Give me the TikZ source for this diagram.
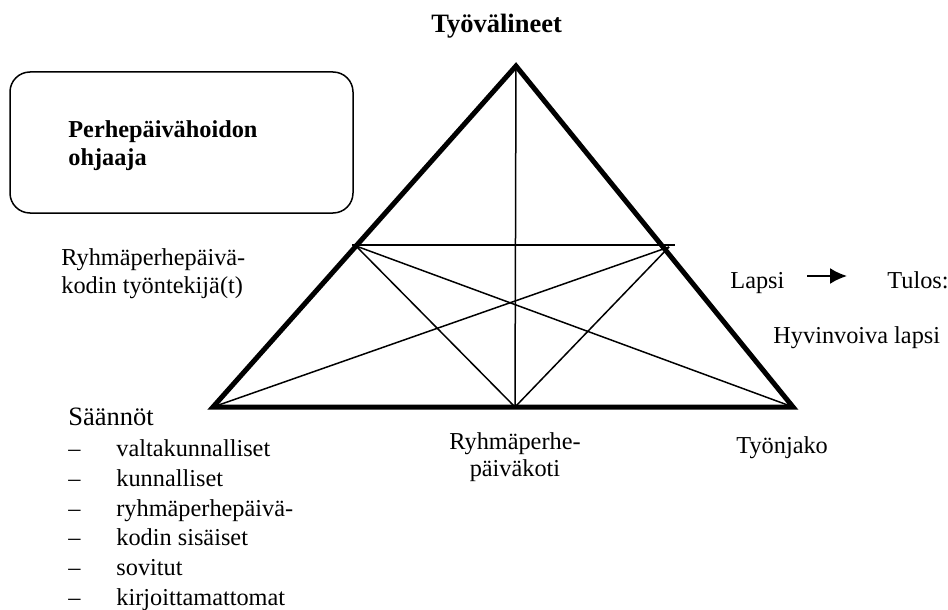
\documentclass[tikz,border=0pt]{standalone}
\usepackage{fontspec}
\setmainfont{Liberation Serif}
\usetikzlibrary{arrows.meta}
\tikzset{>={Latex[length=8.5pt,width=8pt]}}
\tikzset{
  txt/.style={inner sep=0pt, font=\fontsize{12.15}{14}\selectfont},
  bigtxt/.style={inner sep=0pt, font=\fontsize{13.25}{15}\selectfont},
  fineline/.style={line width=0.75pt},
  frame/.style={line width=2.5pt}
}

\begin{document}
\begin{tikzpicture}[x=0.5pt,y=-0.5pt]
            \useasboundingbox (0,0) rectangle (948,610);
            \coordinate (top) at (516,66);
            \coordinate (lb) at (213,407);
            \coordinate (rb) at (793,407);
            \coordinate (bm) at (515,407);
            \coordinate (ul) at (356,246);
            \coordinate (ur) at (669,247);
            \coordinate (hl) at (352,245);
            \coordinate (hr) at (675,245);
            \draw[fineline] (top) -- (bm);
            \draw[fineline] (hl) -- (hr);
            \draw[fineline] (ul) -- (bm);
            \draw[fineline] (ur) -- (bm);
            \draw[fineline] (ul) -- (rb);
            \draw[fineline] (ur) -- (lb);
            \draw[frame] (top) -- (lb) -- (rb) -- cycle;
            \node[draw, fineline, rounded corners=10pt, minimum width=171.5pt, minimum height=70.5pt, inner sep=0pt] (ohjbox) at (181.5,142.5) {};
            \node[bigtxt, anchor=base west] (tyovalineet) at (431,33) {\bfseries Työvälineet};
            \node[txt, anchor=base west] (ohjaaja1) at (68,138) {\bfseries Perhepäivähoidon};
            \node[txt, anchor=base west] (ohjaaja2) at (68,166) {\bfseries ohjaaja};
            \node[txt, anchor=base west] (tyontekija1) at (61,265) {Ryhmäperhepäivä-};
            \node[txt, anchor=base west] (tyontekija2) at (61,293) {kodin työntekijä(t)};
            \node[txt, anchor=base west] (lapsi) at (730,288) {Lapsi};
            \node[txt, anchor=base west] (tulos) at (887,288) {Tulos:};
            \node[txt, anchor=base west] (hyvinvoiva) at (773,343) {Hyvinvoiva lapsi};
            \node[txt, anchor=base] (koti1) at (515,449) {Ryhmäperhe-};
            \node[txt, anchor=base] (koti2) at (515,476) {päiväkoti};
            \node[txt, anchor=base west] (tyonjako) at (736,453) {Työnjako};
            \node[bigtxt, anchor=base west] (saannot) at (68,425) {Säännöt};
            \foreach \sana [count=\i] in {valtakunnalliset, kunnalliset, ryhmäperhepäivä-, kodin sisäiset, sovitut, kirjoittamattomat}
                {
                \node[txt, anchor=base west] (viiva\i) at (68,427+29.7*\i) {--};
                \node[txt, anchor=base west] (saanto\i) at (116,427+29.7*\i) {\sana};
                }
            \coordinate (arrs) at (807,276);
            \coordinate (arre) at (847,276);
            \draw[->, line width=1pt] (arrs) -- (arre);
        \end{tikzpicture}
\end{document}
